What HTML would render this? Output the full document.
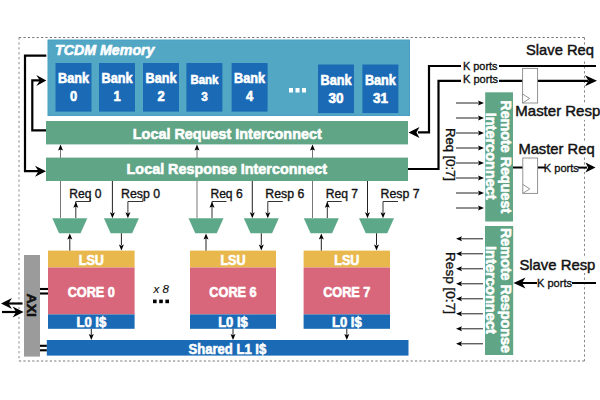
<!DOCTYPE html>
<html><head><meta charset="utf-8">
<style>
html,body{margin:0;padding:0;background:#fff;}
body{width:600px;height:400px;overflow:hidden;}
svg{display:block;font-family:"Liberation Sans",sans-serif;}
</style></head><body>
<svg width="600" height="400" viewBox="0 0 600 400">
<rect x="0" y="0" width="600" height="400" fill="#fff"/>
<path d="M19,37.5 H584.5" fill="none" stroke="#777" stroke-width="1" stroke-dasharray="2.2 2.2"/>
<path d="M19,361 H584.5" fill="none" stroke="#777" stroke-width="1" stroke-dasharray="2.2 2.2"/>
<path d="M19,37.5 V361" fill="none" stroke="#888" stroke-width="1" stroke-dasharray="2.2 2.7"/>
<path d="M584.5,37.5 V361" fill="none" stroke="#888" stroke-width="1" stroke-dasharray="2.3 2.5"/>
<rect x="48" y="40" width="361.50" height="75.50" fill="#52a7c5" stroke="#4a9ec6" stroke-width="1"/>
<text x="55" y="55" font-size="14.5" font-weight="bold" font-style="italic" fill="#fff" stroke="#fff" stroke-width="0.6" textLength="99.5" lengthAdjust="spacingAndGlyphs" text-anchor="start" >TCDM Memory</text>
<rect x="55.5" y="63" width="36.00" height="48.60" fill="#1b6ab5" />
<text x="73.5" y="83.4" font-size="14" font-weight="bold" font-style="normal" fill="#fff" stroke="#fff" stroke-width="0.6" textLength="31" lengthAdjust="spacingAndGlyphs" text-anchor="middle" >Bank</text>
<text x="73.5" y="101.3" font-size="14" font-weight="bold" font-style="normal" fill="#fff" stroke="#fff" stroke-width="0.6" textLength="7.2" lengthAdjust="spacingAndGlyphs" text-anchor="middle" >0</text>
<rect x="99" y="63" width="36.00" height="48.60" fill="#1b6ab5" />
<text x="117" y="83.4" font-size="14" font-weight="bold" font-style="normal" fill="#fff" stroke="#fff" stroke-width="0.6" textLength="31" lengthAdjust="spacingAndGlyphs" text-anchor="middle" >Bank</text>
<text x="117" y="101.3" font-size="14" font-weight="bold" font-style="normal" fill="#fff" stroke="#fff" stroke-width="0.6" textLength="7.2" lengthAdjust="spacingAndGlyphs" text-anchor="middle" >1</text>
<rect x="143" y="63" width="36.00" height="48.60" fill="#1b6ab5" />
<text x="161" y="83.4" font-size="14" font-weight="bold" font-style="normal" fill="#fff" stroke="#fff" stroke-width="0.6" textLength="31" lengthAdjust="spacingAndGlyphs" text-anchor="middle" >Bank</text>
<text x="161" y="101.3" font-size="14" font-weight="bold" font-style="normal" fill="#fff" stroke="#fff" stroke-width="0.6" textLength="7.2" lengthAdjust="spacingAndGlyphs" text-anchor="middle" >2</text>
<rect x="186.4" y="63" width="36.00" height="48.60" fill="#1b6ab5" />
<text x="204.4" y="83.6" font-size="12.5" font-weight="bold" font-style="normal" fill="#fff" stroke="#fff" stroke-width="0.6" textLength="28" lengthAdjust="spacingAndGlyphs" text-anchor="middle" >Bank</text>
<text x="204.4" y="101" font-size="12.5" font-weight="bold" font-style="normal" fill="#fff" stroke="#fff" stroke-width="0.6" textLength="6.5" lengthAdjust="spacingAndGlyphs" text-anchor="middle" >3</text>
<rect x="231.6" y="63" width="36.00" height="48.60" fill="#1b6ab5" />
<text x="249.6" y="83.4" font-size="14" font-weight="bold" font-style="normal" fill="#fff" stroke="#fff" stroke-width="0.6" textLength="31" lengthAdjust="spacingAndGlyphs" text-anchor="middle" >Bank</text>
<text x="249.6" y="101.3" font-size="14" font-weight="bold" font-style="normal" fill="#fff" stroke="#fff" stroke-width="0.6" textLength="7.2" lengthAdjust="spacingAndGlyphs" text-anchor="middle" >4</text>
<rect x="318" y="64.5" width="36.00" height="48.60" fill="#1b6ab5" />
<text x="336" y="84.9" font-size="14" font-weight="bold" font-style="normal" fill="#fff" stroke="#fff" stroke-width="0.6" textLength="31" lengthAdjust="spacingAndGlyphs" text-anchor="middle" >Bank</text>
<text x="336" y="102.8" font-size="14" font-weight="bold" font-style="normal" fill="#fff" stroke="#fff" stroke-width="0.6" textLength="15" lengthAdjust="spacingAndGlyphs" text-anchor="middle" >30</text>
<rect x="362.4" y="64.5" width="36.00" height="48.60" fill="#1b6ab5" />
<text x="380.4" y="84.9" font-size="14" font-weight="bold" font-style="normal" fill="#fff" stroke="#fff" stroke-width="0.6" textLength="31" lengthAdjust="spacingAndGlyphs" text-anchor="middle" >Bank</text>
<text x="380.4" y="102.8" font-size="14" font-weight="bold" font-style="normal" fill="#fff" stroke="#fff" stroke-width="0.6" textLength="15" lengthAdjust="spacingAndGlyphs" text-anchor="middle" >31</text>
<rect x="289.0" y="88" width="4.00" height="4.50" fill="#fff" />
<rect x="295.5" y="88" width="4.00" height="4.50" fill="#fff" />
<rect x="302.0" y="88" width="4.00" height="4.50" fill="#fff" />
<rect x="46" y="121" width="362.00" height="23.40" fill="#5fa586" />
<text x="132.8" y="138.8" font-size="15.5" font-weight="bold" font-style="normal" fill="#fff" stroke="#fff" stroke-width="0.6" textLength="189" lengthAdjust="spacingAndGlyphs" text-anchor="start" >Local Request Interconnect</text>
<path d="M60.5,218 V148" stroke="#777" stroke-width="1" fill="none" />
<polygon points="60.50,144.60 58.00,150.60 60.50,149.40 63.00,150.60" fill="#000"/>
<path d="M197,218 V148" stroke="#777" stroke-width="1" fill="none" />
<polygon points="197.00,144.60 194.50,150.60 197.00,149.40 199.50,150.60" fill="#000"/>
<path d="M312.5,218 V148" stroke="#777" stroke-width="1" fill="none" />
<polygon points="312.50,144.60 310.00,150.60 312.50,149.40 315.00,150.60" fill="#000"/>
<rect x="46" y="157.6" width="362.00" height="23.40" fill="#5fa586" />
<text x="126.6" y="174.4" font-size="15.5" font-weight="bold" font-style="normal" fill="#fff" stroke="#fff" stroke-width="0.6" textLength="200.4" lengthAdjust="spacingAndGlyphs" text-anchor="start" >Local Response Interconnect</text>
<path d="M46.3,55.6 H25 V171.2 H40" stroke="#000" stroke-width="2.2" fill="none" />
<polygon points="46.00,171.20 35.00,165.70 38.50,171.20 35.00,176.70" fill="#000"/>
<path d="M46,130.3 H32.3 V80.4 H40" stroke="#000" stroke-width="2.2" fill="none" />
<polygon points="46.30,80.40 36.30,74.90 39.80,80.40 36.30,85.90" fill="#000"/>
<rect x="48" y="250.6" width="86.60" height="16.90" fill="#e8b84c" />
<rect x="48" y="267.5" width="86.60" height="46.90" fill="#d9677b" />
<rect x="48" y="314.4" width="86.60" height="14.40" fill="#1b6ab5" />
<text x="91.3" y="264.8" font-size="14" font-weight="bold" font-style="normal" fill="#fff" stroke="#fff" stroke-width="0.6" textLength="25.2" lengthAdjust="spacingAndGlyphs" text-anchor="middle" >LSU</text>
<text x="91.3" y="296.8" font-size="14.7" font-weight="bold" font-style="normal" fill="#fff" stroke="#fff" stroke-width="0.6" textLength="47.3" lengthAdjust="spacingAndGlyphs" text-anchor="middle" >CORE 0</text>
<text x="91.3" y="327.2" font-size="14" font-weight="bold" font-style="normal" fill="#fff" stroke="#fff" stroke-width="0.6" textLength="29.7" lengthAdjust="spacingAndGlyphs" text-anchor="middle" >L0 I$</text>
<polygon points="52.3,218.25 87.3,218.25 80.55,233.25 59.05,233.25" fill="#5ea88a"/>
<polygon points="103.9,218.25 138.9,218.25 132.15,233.25 110.65,233.25" fill="#5ea88a"/>
<path d="M75.8,218 V201.5 H90.3 V198" stroke="#333" stroke-width="1" fill="none" />
<polygon points="75.80,201.80 73.30,207.80 75.80,206.60 78.30,207.80" fill="#000"/>
<path d="M112.4,181 V213" stroke="#222" stroke-width="1" fill="none" />
<polygon points="112.40,218.30 109.90,212.30 112.40,213.50 114.90,212.30" fill="#000"/>
<path d="M142.9,198 V201.5 H127.9 V213" stroke="#333" stroke-width="1" fill="none" />
<polygon points="127.90,218.30 125.40,212.30 127.90,213.50 130.40,212.30" fill="#000"/>
<path d="M69.8,250.6 V238" stroke="#222" stroke-width="1" fill="none" />
<polygon points="69.80,233.50 67.30,239.50 69.80,238.30 72.30,239.50" fill="#000"/>
<path d="M121.4,233.25 V245" stroke="#222" stroke-width="1" fill="none" />
<polygon points="121.40,250.60 118.90,244.60 121.40,245.80 123.90,244.60" fill="#000"/>
<path d="M91.3,328.8 V335" stroke="#222" stroke-width="1" fill="none" />
<polygon points="91.30,340.00 88.80,334.00 91.30,335.20 93.80,334.00" fill="#000"/>
<text x="69.2" y="197.8" font-size="12.5" font-weight="normal" font-style="normal" fill="#111" stroke="#111" stroke-width="0.35" textLength="32.3" lengthAdjust="spacingAndGlyphs" text-anchor="start" >Req 0</text>
<text x="121.0" y="197.8" font-size="12.5" font-weight="normal" font-style="normal" fill="#111" stroke="#111" stroke-width="0.35" textLength="39" lengthAdjust="spacingAndGlyphs" text-anchor="start" >Resp 0</text>
<rect x="190" y="250.6" width="86.00" height="16.90" fill="#e8b84c" />
<rect x="190" y="267.5" width="86.00" height="46.90" fill="#d9677b" />
<rect x="190" y="314.4" width="86.00" height="14.40" fill="#1b6ab5" />
<text x="233.0" y="264.8" font-size="14" font-weight="bold" font-style="normal" fill="#fff" stroke="#fff" stroke-width="0.6" textLength="25.2" lengthAdjust="spacingAndGlyphs" text-anchor="middle" >LSU</text>
<text x="233.0" y="296.8" font-size="14.7" font-weight="bold" font-style="normal" fill="#fff" stroke="#fff" stroke-width="0.6" textLength="47.3" lengthAdjust="spacingAndGlyphs" text-anchor="middle" >CORE 6</text>
<text x="233.0" y="327.2" font-size="14" font-weight="bold" font-style="normal" fill="#fff" stroke="#fff" stroke-width="0.6" textLength="29.7" lengthAdjust="spacingAndGlyphs" text-anchor="middle" >L0 I$</text>
<polygon points="188.5,218.25 223.5,218.25 216.75,233.25 195.25,233.25" fill="#5ea88a"/>
<polygon points="243.8,218.25 278.8,218.25 272.05,233.25 250.55,233.25" fill="#5ea88a"/>
<path d="M212,218 V201.5 H226.5 " stroke="#333" stroke-width="1" fill="none" />
<polygon points="212.00,201.80 209.50,207.80 212.00,206.60 214.50,207.80" fill="#000"/>
<path d="M252.3,181 V213" stroke="#222" stroke-width="1" fill="none" />
<polygon points="252.30,218.30 249.80,212.30 252.30,213.50 254.80,212.30" fill="#000"/>
<path d="M282.8,201.5 V201.5 H267.8 V213" stroke="#333" stroke-width="1" fill="none" />
<polygon points="267.80,218.30 265.30,212.30 267.80,213.50 270.30,212.30" fill="#000"/>
<path d="M206,250.6 V238" stroke="#222" stroke-width="1" fill="none" />
<polygon points="206.00,233.50 203.50,239.50 206.00,238.30 208.50,239.50" fill="#000"/>
<path d="M261.3,233.25 V245" stroke="#222" stroke-width="1" fill="none" />
<polygon points="261.30,250.60 258.80,244.60 261.30,245.80 263.80,244.60" fill="#000"/>
<path d="M233.0,328.8 V335" stroke="#222" stroke-width="1" fill="none" />
<polygon points="233.00,340.00 230.50,334.00 233.00,335.20 235.50,334.00" fill="#000"/>
<text x="210.4" y="197.8" font-size="12.5" font-weight="normal" font-style="normal" fill="#111" stroke="#111" stroke-width="0.35" textLength="32.3" lengthAdjust="spacingAndGlyphs" text-anchor="start" >Req 6</text>
<text x="265.3" y="197.8" font-size="12.5" font-weight="normal" font-style="normal" fill="#111" stroke="#111" stroke-width="0.35" textLength="39" lengthAdjust="spacingAndGlyphs" text-anchor="start" >Resp 6</text>
<rect x="303.6" y="250.6" width="86.40" height="16.90" fill="#e8b84c" />
<rect x="303.6" y="267.5" width="86.40" height="46.90" fill="#d9677b" />
<rect x="303.6" y="314.4" width="86.40" height="14.40" fill="#1b6ab5" />
<text x="346.8" y="264.8" font-size="14" font-weight="bold" font-style="normal" fill="#fff" stroke="#fff" stroke-width="0.6" textLength="25.2" lengthAdjust="spacingAndGlyphs" text-anchor="middle" >LSU</text>
<text x="346.8" y="296.8" font-size="14.7" font-weight="bold" font-style="normal" fill="#fff" stroke="#fff" stroke-width="0.6" textLength="47.3" lengthAdjust="spacingAndGlyphs" text-anchor="middle" >CORE 7</text>
<text x="346.8" y="327.2" font-size="14" font-weight="bold" font-style="normal" fill="#fff" stroke="#fff" stroke-width="0.6" textLength="29.7" lengthAdjust="spacingAndGlyphs" text-anchor="middle" >L0 I$</text>
<polygon points="303.8,218.25 338.8,218.25 332.05,233.25 310.55,233.25" fill="#5ea88a"/>
<polygon points="359.0,218.25 394.0,218.25 387.25,233.25 365.75,233.25" fill="#5ea88a"/>
<path d="M327.3,218 V201.5 H341.8 " stroke="#333" stroke-width="1" fill="none" />
<polygon points="327.30,201.80 324.80,207.80 327.30,206.60 329.80,207.80" fill="#000"/>
<path d="M367.5,181 V213" stroke="#222" stroke-width="1" fill="none" />
<polygon points="367.50,218.30 365.00,212.30 367.50,213.50 370.00,212.30" fill="#000"/>
<path d="M398.0,201.5 V201.5 H383.0 V213" stroke="#333" stroke-width="1" fill="none" />
<polygon points="383.00,218.30 380.50,212.30 383.00,213.50 385.50,212.30" fill="#000"/>
<path d="M321.3,250.6 V238" stroke="#222" stroke-width="1" fill="none" />
<polygon points="321.30,233.50 318.80,239.50 321.30,238.30 323.80,239.50" fill="#000"/>
<path d="M376.5,233.25 V245" stroke="#222" stroke-width="1" fill="none" />
<polygon points="376.50,250.60 374.00,244.60 376.50,245.80 379.00,244.60" fill="#000"/>
<path d="M346.8,328.8 V335" stroke="#222" stroke-width="1" fill="none" />
<polygon points="346.80,340.00 344.30,334.00 346.80,335.20 349.30,334.00" fill="#000"/>
<text x="325.7" y="197.8" font-size="12.5" font-weight="normal" font-style="normal" fill="#111" stroke="#111" stroke-width="0.35" textLength="32.3" lengthAdjust="spacingAndGlyphs" text-anchor="start" >Req 7</text>
<text x="380.5" y="197.8" font-size="12.5" font-weight="normal" font-style="normal" fill="#111" stroke="#111" stroke-width="0.35" textLength="39" lengthAdjust="spacingAndGlyphs" text-anchor="start" >Resp 7</text>
<rect x="46.8" y="340" width="361.70" height="15.60" fill="#1b6ab5" />
<text x="188.5" y="353.5" font-size="15.5" font-weight="bold" font-style="normal" fill="#fff" stroke="#fff" stroke-width="0.6" textLength="77.7" lengthAdjust="spacingAndGlyphs" text-anchor="start" >Shared L1 I$</text>
<text x="153.6" y="293" font-size="11.5" font-weight="normal" font-style="italic" fill="#111" stroke="#111" stroke-width="0.15" textLength="15.4" lengthAdjust="spacingAndGlyphs" text-anchor="start" >x 8</text>
<rect x="153.0" y="299.6" width="3.60" height="3.60" fill="#000" />
<rect x="159.2" y="299.6" width="3.60" height="3.60" fill="#000" />
<rect x="165.4" y="299.6" width="3.60" height="3.60" fill="#000" />
<rect x="24" y="255" width="16.00" height="101.60" fill="#9b9b9b" />
<text x="0" y="0" font-size="13" font-weight="bold" fill="#111" stroke="#111" stroke-width="0.5" textLength="23.5" lengthAdjust="spacingAndGlyphs" text-anchor="middle" transform="translate(27,305.2) rotate(90)">AXI</text>
<path d="M40,289 H48" stroke="#000" stroke-width="2.1" fill="none" />
<path d="M40,293.5 H48" stroke="#000" stroke-width="2.1" fill="none" />
<path d="M40,345.8 H46.8" stroke="#000" stroke-width="2.1" fill="none" />
<path d="M40,350.3 H46.8" stroke="#000" stroke-width="2.1" fill="none" />
<path d="M22.5,303.5 H8" stroke="#000" stroke-width="2.2" fill="none" />
<polygon points="1.00,303.50 12.00,298.00 8.50,303.50 12.00,309.00" fill="#000"/>
<path d="M2,312 H16" stroke="#000" stroke-width="2.2" fill="none" />
<polygon points="23.60,312.00 12.60,306.50 16.10,312.00 12.60,317.50" fill="#000"/>
<path d="M596,66 H429 V132.4 H418" stroke="#000" stroke-width="2.2" fill="none" />
<polygon points="408.50,132.40 419.50,126.90 416.50,132.40 419.50,137.90" fill="#000"/>
<path d="M408,169 H438.5 V80.8 H588" stroke="#000" stroke-width="2.2" fill="none" />
<polygon points="597.00,80.80 585.00,75.30 588.50,80.80 585.00,86.30" fill="#000"/>
<rect x="461" y="63" width="38.00" height="6.00" fill="#fff" />
<rect x="461" y="77.8" width="38.00" height="6.00" fill="#fff" />
<text x="463" y="70" font-size="11.5" font-weight="normal" font-style="normal" fill="#111" stroke="#111" stroke-width="0.35" textLength="34.5" lengthAdjust="spacingAndGlyphs" text-anchor="start" >K ports</text>
<text x="463" y="83" font-size="11.5" font-weight="normal" font-style="normal" fill="#111" stroke="#111" stroke-width="0.35" textLength="35" lengthAdjust="spacingAndGlyphs" text-anchor="start" >K ports</text>
<rect x="522.6" y="68.4" width="15.00" height="34.60" fill="#fff" stroke="#888" stroke-width="0.9"/>
<path d="M522.6,94 L529.6,98.5 L522.6,103" fill="none" stroke="#888" stroke-width="0.9"/>
<rect x="525" y="46" width="70" height="14" fill="#fff"/>
<text x="526" y="55.4" font-size="14.8" font-weight="normal" font-style="normal" fill="#111" stroke="#111" stroke-width="0.45" textLength="68" lengthAdjust="spacingAndGlyphs" text-anchor="start" >Slave Req</text>
<rect x="515" y="104" width="85" height="16" fill="#fff"/>
<text x="515.3" y="115.6" font-size="15" font-weight="normal" font-style="normal" fill="#111" stroke="#111" stroke-width="0.45" textLength="85" lengthAdjust="spacingAndGlyphs" text-anchor="start" >Master Resp</text>
<rect x="485.2" y="92.3" width="27.80" height="129.20" fill="#5fa586" />
<text x="0" y="0" font-size="14" font-weight="bold" fill="#fff" stroke="#fff" stroke-width="0.6" textLength="113" lengthAdjust="spacingAndGlyphs" transform="translate(501.3,100.3) rotate(90)">Remote Request</text>
<text x="0" y="0" font-size="14" font-weight="bold" fill="#fff" stroke="#fff" stroke-width="0.6" textLength="87" lengthAdjust="spacingAndGlyphs" transform="translate(486.2,112.7) rotate(90)">Interconnect</text>
<path d="M456,103 H479" stroke="#222" stroke-width="1" fill="none" />
<polygon points="484.00,103.00 478.00,100.50 479.20,103.00 478.00,105.50" fill="#000"/>
<path d="M456,118 H479" stroke="#222" stroke-width="1" fill="none" />
<polygon points="484.00,118.00 478.00,115.50 479.20,118.00 478.00,120.50" fill="#000"/>
<path d="M456,133 H479" stroke="#222" stroke-width="1" fill="none" />
<polygon points="484.00,133.00 478.00,130.50 479.20,133.00 478.00,135.50" fill="#000"/>
<path d="M456,148 H479" stroke="#222" stroke-width="1" fill="none" />
<polygon points="484.00,148.00 478.00,145.50 479.20,148.00 478.00,150.50" fill="#000"/>
<path d="M456,163 H479" stroke="#222" stroke-width="1" fill="none" />
<polygon points="484.00,163.00 478.00,160.50 479.20,163.00 478.00,165.50" fill="#000"/>
<path d="M456,178 H479" stroke="#222" stroke-width="1" fill="none" />
<polygon points="484.00,178.00 478.00,175.50 479.20,178.00 478.00,180.50" fill="#000"/>
<path d="M456,193 H479" stroke="#222" stroke-width="1" fill="none" />
<polygon points="484.00,193.00 478.00,190.50 479.20,193.00 478.00,195.50" fill="#000"/>
<path d="M456,208 H479" stroke="#222" stroke-width="1" fill="none" />
<polygon points="484.00,208.00 478.00,205.50 479.20,208.00 478.00,210.50" fill="#000"/>
<text x="0" y="0" font-size="12.5" fill="#111" stroke="#111" stroke-width="0.35" textLength="53" lengthAdjust="spacingAndGlyphs" transform="translate(446,128) rotate(90)">Req [0:7]</text>
<rect x="517" y="141" width="79" height="16" fill="#fff"/>
<text x="518.4" y="153.6" font-size="15" font-weight="normal" font-style="normal" fill="#111" stroke="#111" stroke-width="0.45" textLength="76.2" lengthAdjust="spacingAndGlyphs" text-anchor="start" >Master Req</text>
<path d="M513,167.6 H523 M537.6,167.6 H545" stroke="#000" stroke-width="2" fill="none" />
<rect x="522.8" y="158" width="14.80" height="35.40" fill="#fff" stroke="#888" stroke-width="0.9"/>
<path d="M522.8,184.4 L529.8,188.9 L522.8,193.4" fill="none" stroke="#888" stroke-width="0.9"/>
<text x="543.8" y="171.8" font-size="11.5" font-weight="normal" font-style="normal" fill="#111" stroke="#111" stroke-width="0.35" textLength="35" lengthAdjust="spacingAndGlyphs" text-anchor="start" >K ports</text>
<path d="M578,167.6 H587" stroke="#000" stroke-width="2" fill="none" />
<polygon points="595.50,167.60 585.50,162.60 588.00,167.60 585.50,172.60" fill="#000"/>
<rect x="485" y="226" width="28.20" height="129.00" fill="#5fa586" />
<text x="0" y="0" font-size="14" font-weight="bold" fill="#fff" stroke="#fff" stroke-width="0.6" textLength="125" lengthAdjust="spacingAndGlyphs" transform="translate(501,228) rotate(90)">Remote Response</text>
<text x="0" y="0" font-size="14" font-weight="bold" fill="#fff" stroke="#fff" stroke-width="0.6" textLength="88" lengthAdjust="spacingAndGlyphs" transform="translate(486,246) rotate(90)">Interconnect</text>
<path d="M483,238.8 H461" stroke="#222" stroke-width="1" fill="none" />
<polygon points="456.00,238.80 462.00,236.30 460.80,238.80 462.00,241.30" fill="#000"/>
<path d="M483,253.8 H461" stroke="#222" stroke-width="1" fill="none" />
<polygon points="456.00,253.80 462.00,251.30 460.80,253.80 462.00,256.30" fill="#000"/>
<path d="M483,268.8 H461" stroke="#222" stroke-width="1" fill="none" />
<polygon points="456.00,268.80 462.00,266.30 460.80,268.80 462.00,271.30" fill="#000"/>
<path d="M483,283.8 H461" stroke="#222" stroke-width="1" fill="none" />
<polygon points="456.00,283.80 462.00,281.30 460.80,283.80 462.00,286.30" fill="#000"/>
<path d="M483,298.8 H461" stroke="#222" stroke-width="1" fill="none" />
<polygon points="456.00,298.80 462.00,296.30 460.80,298.80 462.00,301.30" fill="#000"/>
<path d="M483,313.8 H461" stroke="#222" stroke-width="1" fill="none" />
<polygon points="456.00,313.80 462.00,311.30 460.80,313.80 462.00,316.30" fill="#000"/>
<path d="M483,328.8 H461" stroke="#222" stroke-width="1" fill="none" />
<polygon points="456.00,328.80 462.00,326.30 460.80,328.80 462.00,331.30" fill="#000"/>
<path d="M483,343.8 H461" stroke="#222" stroke-width="1" fill="none" />
<polygon points="456.00,343.80 462.00,341.30 460.80,343.80 462.00,346.30" fill="#000"/>
<text x="0" y="0" font-size="12.5" fill="#111" stroke="#111" stroke-width="0.35" textLength="62" lengthAdjust="spacingAndGlyphs" transform="translate(446,252) rotate(90)">Resp [0:7]</text>
<rect x="518" y="256" width="79" height="17" fill="#fff"/>
<text x="519.4" y="269.6" font-size="15" font-weight="normal" font-style="normal" fill="#111" stroke="#111" stroke-width="0.45" textLength="76" lengthAdjust="spacingAndGlyphs" text-anchor="start" >Slave Resp</text>
<path d="M596,283 H572 M537,283 H522" stroke="#000" stroke-width="2" fill="none" />
<polygon points="513.50,283.00 525.50,277.50 522.00,283.00 525.50,288.50" fill="#000"/>
<text x="537" y="287" font-size="11.5" font-weight="normal" font-style="normal" fill="#111" stroke="#111" stroke-width="0.35" textLength="35" lengthAdjust="spacingAndGlyphs" text-anchor="start" >K ports</text>
</svg>
</body></html>
